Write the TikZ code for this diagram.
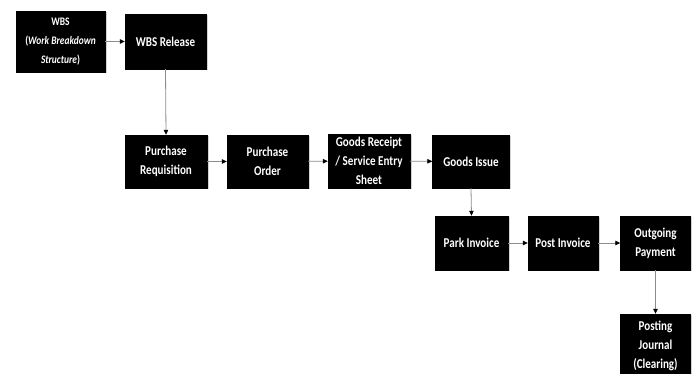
\documentclass[tikz,border=0pt]{standalone}
\usepackage{fontspec}
\setmainfont{Carlito}[FakeStretch=0.82]
\usetikzlibrary{shadows,arrows.meta}
\tikzset{
  procbox/.style={draw=black, fill=black, text=white, font=\bfseries\fontsize{13.5}{19}\selectfont,
    align=center, inner sep=0pt, minimum width=#1, minimum height=54pt,
    drop shadow={opacity=0.35, shadow xshift=1.5pt, shadow yshift=-1.5pt}},
  flow/.style={draw=black!45, line width=0.8pt, -{Triangle[length=5pt,width=4.5pt,fill=black,color=black]}}
}
\begin{document}
\begin{tikzpicture}[x=1pt,y=1pt]
\useasboundingbox (0,0) rectangle (697,-374);
\fill[white] (0,0) rectangle (697,-374);
\node[procbox=89pt, minimum height=61pt, font=\bfseries\fontsize{11.5}{19}\selectfont] (wbs) at (60.5,-41.5) {WBS\\(\textit{Work Breakdown}\\\textit{Structure})};
\node[procbox=81pt, minimum height=55pt] (rel) at (165.5,-41.5) {WBS Release};
\node[procbox=82pt, minimum height=53pt] (pr) at (166,-161.5) {Purchase\\Requisition};
\node[procbox=81pt, minimum height=53pt] (po) at (267.5,-161.5) {Purchase\\Order};
\node[procbox=82pt, minimum height=54pt] (gr) at (369,-161) {Goods Receipt\\/ Service Entry\\Sheet};
\node[procbox=77pt, minimum height=53pt] (gi) at (471,-161.5) {Goods Issue};
\node[procbox=73pt] (pk) at (471.5,-243) {Park Invoice};
\node[procbox=70pt] (pi) at (563,-243) {Post Invoice};
\node[procbox=70pt] (op) at (655.5,-243) {Outgoing\\Payment};
\node[procbox=70pt, minimum height=64pt] (pj) at (655.5,-346) {Posting\\Journal\\(Clearing)};
\draw[flow] (wbs) -- (rel);
\draw[flow] (rel.south) -- (pr.north);
\draw[flow] (pr) -- (po);
\draw[flow] (po) -- (gr);
\draw[flow] (gr) -- (gi);
\draw[flow] (gi.south) -- (pk.north);
\draw[flow] (pk) -- (pi);
\draw[flow] (pi) -- (op);
\draw[flow] (op.south) -- (pj.north);
\end{tikzpicture}
\end{document}
